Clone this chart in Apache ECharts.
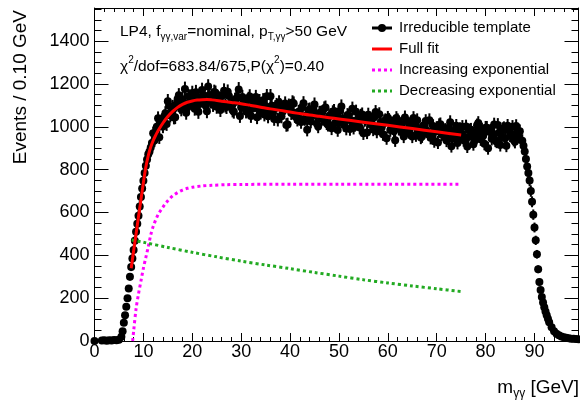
<!DOCTYPE html>
<html>
<head>
<meta charset="utf-8">
<script src="https://cdn.jsdelivr.net/npm/echarts@6/dist/echarts.min.js"></script>
<style>
html,body{margin:0;padding:0;background:#fff;}
#chart{width:580px;height:401px;}
</style>
</head>
<body>
<div id="chart"></div>
<script>
// ---- data ----
const binStart = 0;
const binStep = 0.5;
// Events per bin sampled every 0.5 GeV from 0 to 99 GeV
const eventsMain = [
  0, null, null, 2, 3, 1, 4, 2, 5, 3, 6, 20, 85, 160, 245, 345, 425, 510, 585, 672, 748, 818, 872, 903,
  970, 957, 1040, 1015, 1002, 1064, 1120, 1053, 1093, 1045,
  1130, 1094, 1129, 1177, 1090, 1115, 1158, 1085, 1141, 1107,
  1172, 1118, 1073, 1149, 1131, 1163, 1094, 1132, 1106, 1169,
  1093, 1144, 1107, 1071, 1132, 1175, 1091, 1110, 1072, 1130,
  1051, 1113, 1139, 1083, 1067, 1124, 1096, 1049, 1143, 1063,
  1092, 1034, 1101, 1072, 1109, 1011, 1088, 1114, 1051, 1034,
  1071, 1091, 1037, 987, 1081, 1057, 1104, 1015, 1065, 1038,
  1086, 1017, 1049, 993, 1074, 1051, 1019, 1095, 1010, 992,
  1052, 1031, 996, 1071, 1014, 1052, 970, 1037, 1057, 1011,
  988, 1069, 997, 1019, 966, 1031, 1042, 985, 1016, 937,
  1031, 1004, 973, 1044, 982, 1013, 955, 1005, 1031, 979,
  956, 1010, 979, 1031, 958, 933, 995, 1008, 964, 981,
  936, 997, 910, 980, 1005, 944, 968, 938, 1002, 953,
  987, 919, 976, 1018, 942, 958, 996, 900, 982, 968,
  936, 1009, 915, 990, 947, 1005, 960, 1000, 930, 977,
  980,
  935, 885, 815, 750, 650, 530, 405, 275, 205, 158, 120, 88, 64, 46, 34, 27, 21, 18, 15, 13, 11, 10, 9, 8
];
// interleaved bins on the plateau, every 0.5 GeV from 12.25 to 86.75 GeV
const offsetStart = 12.25;
const eventsOffset = [
  936, 1001, 951, 1017, 1048, 1013, 1099, 1061, 1044, 1104,
  1147, 1082, 1111, 1066, 1143, 1132, 1107, 1162, 1070, 1135,
  1147, 1098, 1188, 1119, 1103, 1159, 1123, 1079, 1147, 1100,
  1164, 1105, 1077, 1126, 1135, 1051, 1139, 1111, 1079, 1142,
  1085, 1116, 1045, 1120, 1095, 1058, 1143, 1076, 1099, 1037,
  1102, 1114, 1049, 1083, 1009, 1099, 1065, 1109, 1046, 1070,
  1023, 1110, 1042, 1078, 1025, 1086, 1053, 1002, 1066, 1039,
  1090, 1010, 1055, 1068, 1018, 985, 1075, 1039, 1022, 1055,
  990, 1085, 1010, 1033, 997, 1058, 1032, 974, 1039, 1011,
  1045, 978, 1059, 997, 1026, 947, 1032, 1007, 980, 1041,
  991, 1012, 955, 1028, 976, 1001, 1041, 961, 994, 950,
  1005, 1027, 968, 949, 1004, 978, 927, 1012, 967, 986,
  945, 1022, 947, 975, 925, 990, 1000, 953, 908, 984,
  969, 935, 1007, 957, 988, 921, 996, 977, 944, 1011,
  931, 972, 950, 994, 912, 983, 967, 939, 1004, 955
];
// extra bins in the steep edges
const extraMass = [5.75, 6.25, 6.75, 7.25, 7.75, 8.25, 8.75, 9.25, 9.75, 10.25, 10.75, 11.25, 11.75,
  87.75, 88.25, 88.75, 89.25, 89.75, 90.25, 90.75, 91.25, 91.75, 92.25, 92.75];
const extraEvents = [45, 120, 200, 300, 385, 468, 548, 628, 712, 785, 848, 885, 925,
  912, 850, 785, 700, 590, 470, 335, 238, 180, 138, 104];

const fitMass = [7.5, 8, 8.5, 9, 9.5, 10, 10.5, 11, 11.5, 12, 12.5, 13, 14, 15, 16, 17, 18, 19, 20, 21, 22, 23, 24,
  26, 28, 30, 32, 34, 36, 38, 40, 42, 44, 46, 48, 50, 55, 60, 65, 70, 75];
const fullFit = [340, 420, 500, 580, 660, 740, 812, 866, 906, 936, 960, 982, 1018, 1048, 1072, 1091, 1105, 1115, 1121, 1125, 1127, 1128, 1126,
  1120, 1114, 1108, 1100, 1092, 1084, 1077, 1069, 1062, 1055, 1049, 1043, 1037, 1022, 1007, 992, 977, 962];

const incMass = [7.8, 8, 8.5, 9, 9.5, 10, 10.5, 11, 11.5, 12, 13, 14, 15, 16, 17, 18, 19, 20, 22, 24, 27, 30, 40, 50, 60, 75];
const incExp = [0, 45, 150, 220, 280, 340, 390, 440, 495, 535, 590, 625, 655, 678, 693, 705, 713, 718, 724, 727, 730, 731, 732, 732, 732, 732];

const decMass = [7.6, 10, 15, 20, 25, 30, 35, 40, 45, 50, 55, 60, 65, 70, 75];
const decExp = [472, 461, 437, 414, 393, 373, 355, 338, 320, 303, 286, 271, 257, 244, 231];

const xTicksMajor = 10, xTicksMinor = 2, xMin = 0, xMax = 99;
const yTicksMajor = 200, yTicksMinor = 50, yMin = 0, yMax = 1555;

const legendNames = ['Irreducible template', 'Full fit', 'Increasing exponential', 'Decreasing exponential'];
const xTitle = 'm';
const yTitle = 'Events / 0.10 GeV';

// ---- build ----
const FONT = '"Liberation Sans", Arial, Helvetica, sans-serif';
const pts = [];
eventsMain.forEach((v, i) => { if (v !== null) pts.push([binStart + i * binStep, v]); });
eventsOffset.forEach((v, i) => pts.push([offsetStart + i * binStep, v]));
extraMass.forEach((m, i) => pts.push([m, extraEvents[i]]));
const zip = (a, b) => a.map((v, i) => [v, b[i]]);

const chart = echarts.init(document.getElementById('chart'), null, {renderer: 'canvas'});

function xAx(pos, interval, len, line, labels) {
  return {
    type: 'value', position: pos, min: xMin, max: xMax, interval: interval,
    axisLine: {show: line, onZero: false, lineStyle: {color: '#000', width: 1}},
    axisTick: {show: true, inside: true, length: len, lineStyle: {color: '#000', width: 1}},
    axisLabel: {show: labels, fontSize: 18, color: '#000', margin: 2, fontFamily: FONT, showMaxLabel: false,
      formatter: v => String(v)},
    splitLine: {show: false}
  };
}
function yAx(pos, interval, len, line, labels) {
  return {
    type: 'value', position: pos, min: yMin, max: yMax, interval: interval,
    axisLine: {show: line, onZero: false, lineStyle: {color: '#000', width: 1}},
    axisTick: {show: true, inside: true, length: len, lineStyle: {color: '#000', width: 1}},
    axisLabel: {show: labels, fontSize: 18, color: '#000', margin: 5, fontFamily: FONT, showMaxLabel: false,
      formatter: v => String(v)},
    splitLine: {show: false}
  };
}

const legendY = [28, 49, 70, 91];
const legendColors = ['#000', '#ff0000', '#ff00ff', '#22aa22'];
const legendGraphics = [];
legendNames.forEach((name, i) => {
  const y = legendY[i];
  legendGraphics.push({
    type: 'line', shape: {x1: 372, y1: y, x2: 392, y2: y},
    style: {stroke: legendColors[i], lineWidth: 3, lineDash: i >= 2 ? [3, 3] : null}
  });
  if (i === 0) legendGraphics.push({type: 'circle', shape: {cx: 382, cy: y, r: 4}, style: {fill: '#000'}});
  legendGraphics.push({
    type: 'text', x: 399, y: y,
    style: {text: name, fontSize: 15, fontFamily: FONT, fill: '#000', align: 'left', verticalAlign: 'middle'}
  });
});

const richBase = {
  n: {fontSize: 15.5, lineHeight: 22, fontFamily: FONT, fill: '#000'},
  s: {fontSize: 10, lineHeight: 10, fontFamily: FONT, fill: '#000', verticalAlign: 'bottom'},
  p: {fontSize: 10, lineHeight: 10, fontFamily: FONT, fill: '#000', verticalAlign: 'top'}
};

const option = {
  animation: false,
  backgroundColor: '#fff',
  grid: {left: 94.5, right: 1.5, top: 8, bottom: 60, containLabel: false},
  xAxis: [
    xAx('bottom', xTicksMajor, 8, true, true),
    xAx('bottom', xTicksMinor, 4, false, false),
    xAx('top', xTicksMajor, 8, true, false),
    xAx('top', xTicksMinor, 4, false, false)
  ],
  yAxis: [
    yAx('left', yTicksMajor, 14, true, true),
    yAx('left', yTicksMinor, 7, false, false),
    yAx('right', yTicksMajor, 14, true, false),
    yAx('right', yTicksMinor, 7, false, false)
  ],
  series: [
    {
      name: legendNames[0] + ' errors', type: 'custom', xAxisIndex: 0, yAxisIndex: 0,
      data: pts, encode: {x: 0, y: 1}, z: 2, silent: true,
      renderItem: function (params, api) {
        const x = api.value(0), y = api.value(1);
        const e = Math.sqrt(Math.max(y, 0));
        const p1 = api.coord([x, y + e]);
        const p2 = api.coord([x, y - e]);
        return {type: 'line', shape: {x1: p1[0], y1: p1[1], x2: p2[0], y2: p2[1]}, style: {stroke: '#000', lineWidth: 2}};
      }
    },
    {
      name: legendNames[0], type: 'scatter', xAxisIndex: 0, yAxisIndex: 0,
      data: pts, symbol: 'circle', symbolSize: 8, itemStyle: {color: '#000', opacity: 1}, clip: false, z: 3, silent: true
    },
    {
      name: legendNames[2], type: 'line', xAxisIndex: 0, yAxisIndex: 0, data: zip(incMass, incExp),
      smooth: 0.3, showSymbol: false, lineStyle: {color: '#ff00ff', width: 3, type: [3, 3], cap: 'butt'}, z: 4, silent: true
    },
    {
      name: legendNames[3], type: 'line', xAxisIndex: 0, yAxisIndex: 0, data: zip(decMass, decExp),
      smooth: 0.3, showSymbol: false, lineStyle: {color: '#22aa22', width: 3, type: [3, 3], cap: 'butt'}, z: 4, silent: true
    },
    {
      name: legendNames[1], type: 'line', xAxisIndex: 0, yAxisIndex: 0, data: zip(fitMass, fullFit),
      smooth: 0.3, showSymbol: false, lineStyle: {color: '#ff0000', width: 3}, z: 5, silent: true
    }
  ],
  graphic: [
    {
      type: 'text', x: 120, y: 31.5,
      style: {
        text: '{n|LP4, f}{s|γγ,var}{n|=nominal, p}{s|T,γγ}{n|>50 GeV}',
        rich: richBase, verticalAlign: 'middle', align: 'left'
      }
    },
    {
      type: 'text', x: 120, y: 66.5,
      style: {
        text: '{n|χ}{p|2}{n|/dof=683.84/675,P(χ}{p|2}{n|)=0.40}',
        rich: richBase, verticalAlign: 'middle', align: 'left'
      }
    },
    {
      type: 'text', x: 21, y: 10, rotation: Math.PI / 2,
      style: {text: yTitle, fontSize: 19, fontFamily: FONT, fill: '#000', align: 'right', verticalAlign: 'middle'}
    },
    {
      type: 'text', x: 579, y: 388,
      style: {
        text: '{b|' + xTitle + '}{s|γγ}{b| [GeV]}',
        rich: {
          b: {fontSize: 19, lineHeight: 24, fontFamily: FONT, fill: '#000'},
          s: {fontSize: 12, lineHeight: 12, fontFamily: FONT, fill: '#000', verticalAlign: 'bottom'}
        },
        align: 'right', verticalAlign: 'middle'
      }
    }
  ].concat(legendGraphics)
};
chart.setOption(option);
</script>
</body>
</html>
